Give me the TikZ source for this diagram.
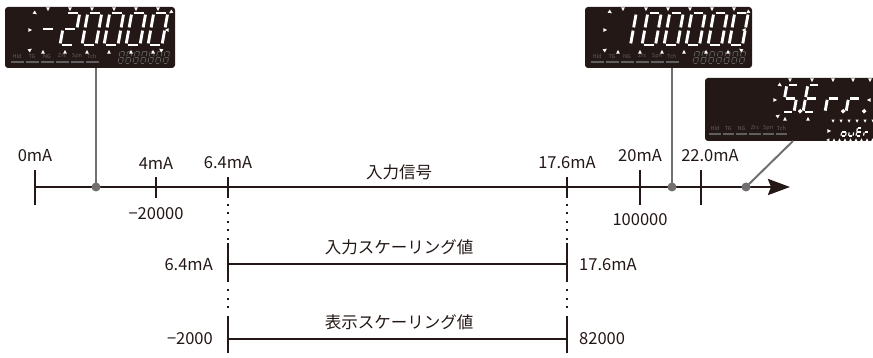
\documentclass[tikz,border=0pt]{standalone}
\usepackage{fontspec}
\setmainfont{Noto Sans CJK JP}
\usetikzlibrary{arrows.meta,positioning}

\definecolor{ink}{HTML}{231815}
\definecolor{lcdbg}{HTML}{231815}
\definecolor{leadgray}{HTML}{707070}
\definecolor{statgray}{HTML}{5F5F5F}

% seven segment parts (cell 1 wide, 2 high)
\newcommand\lcdsega{(0.14,2)--(0.86,2)}
\newcommand\lcdsegb{(1,1.9)--(1,1.1)}
\newcommand\lcdsegc{(1,0.9)--(1,0.1)}
\newcommand\lcdsegd{(0.14,0)--(0.86,0)}
\newcommand\lcdsege{(0,0.1)--(0,0.9)}
\newcommand\lcdsegf{(0,1.1)--(0,1.9)}
\newcommand\lcdsegg{(0.14,1)--(0.86,1)}
\newcommand\lcdsegp{(1.5,0.06) circle[radius=0.3pt]}

% [style]{bottom left}{half height}{width}{segments}
\newcommand\lcdchar[5][]{%
  \begin{scope}[shift={#2}, x=#4pt, y=#3pt, xslant=0.18]
    \foreach \sg in {#5} {\draw[lcdseg,#1] \csname lcdseg\sg\endcsname;}
  \end{scope}}

% [scale]{position}{direction}
\newcommand\blink[3][1]{%
  \fill[blinkmark, shift={#2}, rotate=#3, scale=#1]
    (2.2pt,0) -- (-1.6pt,1.9pt) -- (-1.6pt,-1.9pt) -- cycle;}

% {first x}{y}{pitch}{name prefix}
\newcommand\statrow[4]{%
  \foreach \lb [count=\i from 0] in {Hld,TG,NG,Zrs,Spn,Tch} {%
    \node[stat] (#4\i) at ({#1+\i*#3},#2) {\lb};
    \draw[statbar] ({#1+\i*#3-#3/2+1},{#2+6}) -- ++(#3-2,0);}}

\begin{document}
\begin{tikzpicture}[x=1pt, y=-1pt,
    lbl/.style      = {font=\fontsize{16.5}{18}\selectfont, text=ink, inner sep=0pt},
    axisline/.style = {line width=2.6pt, draw=ink,
                       -{Stealth[length=22pt, width=16pt, inset=3pt]}},
    tickmark/.style = {line width=2.4pt, draw=ink},
    guide/.style    = {line width=2.2pt, draw=ink, dash pattern=on 2pt off 6.5pt},
    scalebar/.style = {line width=2.4pt, draw=ink},
    tapdot/.style   = {circle, fill=leadgray, inner sep=0pt, minimum size=9pt},
    lead/.style     = {line width=2pt, draw=leadgray},
    lcd/.style      = {fill=lcdbg, rounded corners=3pt, inner sep=0pt},
    lcdseg/.style   = {line width=2.9pt, draw=white},
    lcdsmall/.style = {line width=0.8pt, draw=statgray},
    lcdtiny/.style  = {line width=1.2pt},
    stat/.style     = {font=\fontsize{5.5}{6}\selectfont, text=statgray, inner sep=0pt},
    statbar/.style  = {line width=1.6pt, draw=statgray},
    blinkmark/.style= {fill=white},
  ]
  \useasboundingbox (0,0) rectangle (873,358);

  % ---- display panels ----
  \node[lcd, minimum width=170pt, minimum height=61pt] (dispA) at (90,37.5) {};
  \node[lcd, minimum width=167pt, minimum height=61pt] (dispB) at (668.5,37.5) {};
  \node[lcd, minimum width=180pt, minimum height=63pt] (dispC) at (795,109.5) {};

  % panel A: -20000
  \lcdchar{(38,45)}{16}{14}{g}
  \lcdchar{(60,45)}{16}{14}{a,b,g,e,d}
  \foreach \cx in {82,104,126,148} {\lcdchar{(\cx,45)}{16}{14}{a,b,c,d,e,f}}
  \foreach \k in {0,...,6} {\lcdchar[lcdsmall]{(118+7.5*\k,63)}{6}{4.5}{a,b,c,d,e,f,g}}
  \statrow{17}{56}{15}{sa}
  \foreach \bx in {48,70,92,114,136,158} {\blink{(\bx,9)}{-90}}
  \foreach \bx in {43,65,87,109,131,153} {\blink{(\bx,52)}{90}}
  \blink{(35,13)}{-35} \blink{(30,30)}{0} \blink{(30,50)}{35}
  \blink{(171,12)}{-145} \blink{(167,30)}{180} \blink{(161,50)}{145}

  % panel B: 100000
  \lcdchar{(617,45)}{16}{13.5}{b,c}
  \foreach \cx in {642,664,686,708,729} {\lcdchar{(\cx,45)}{16}{13.5}{a,b,c,d,e,f}}
  \foreach \k in {0,...,6} {\lcdchar[lcdsmall]{(693+7.7*\k,63)}{6}{4.5}{a,b,c,d,e,f,g}}
  \statrow{597}{56}{15}{sb}
  \foreach \bx in {623,646,668,690,712,734} {\blink{(\bx,9)}{-90}}
  \foreach \bx in {618,640,662,684,706,728} {\blink{(\bx,52)}{90}}
  \blink{(610,12)}{-35} \blink{(605,30)}{0} \blink{(605,50)}{35}
  \blink{(748,12)}{-145} \blink{(744,30)}{180} \blink{(741,50)}{145}

  % panel C: S.Err / ouEr
  \lcdchar{(782,112)}{13.5}{12}{a,f,g,c,d,p}
  \lcdchar{(803,112)}{13.5}{12}{a,f,g,e,d}
  \lcdchar{(825,112)}{13.5}{12}{e,g,p}
  \lcdchar{(846,112)}{13.5}{12}{e,g,p}
  \lcdchar[lcdtiny]{(841,136)}{4}{4.5}{c,d,e,g}
  \lcdchar[lcdtiny]{(848.5,136)}{4}{4.5}{c,d,e}
  \lcdchar[lcdtiny]{(856,136)}{4}{4.5}{a,f,g,e,d}
  \lcdchar[lcdtiny]{(863.5,136)}{4}{4.5}{e,g}
  \statrow{715}{128}{13.3}{sc}
  \foreach \bx in {790,812,833,853,870} {\blink{(\bx,80)}{-90}}
  \foreach \bx in {785,808} {\blink{(\bx,119)}{90}}
  \blink{(780,85)}{-35} \blink{(775,100)}{0} \blink{(778,116)}{35}
  \blink{(869,100)}{180}
  \foreach \bx in {833,841,849,857,865,873} {\blink[0.8]{(\bx,121)}{-90}}
  \blink{(829,131)}{0}
  \blink[0.8]{(828,140)}{180}
  \foreach \k in {0,...,7} {\blink[0.7]{(834+5.5*\k,140)}{90}}

  % ---- current axis ----
  \coordinate (axL) at (35,187);
  \coordinate (axR) at (790,187);
  \draw[axisline] (axL) -- (axR);
  \foreach \tx in {35,640,701} {\draw[tickmark] (\tx,170) -- (\tx,205);}
  \foreach \tx in {156,228,567} {\draw[tickmark] (\tx,177) -- (\tx,198);}

  \node[lbl] (mA0)   at (35,156)  {0mA};
  \node[lbl] (mA4)   at (156,163) {4mA};
  \node[lbl] (mA64)  at (228,163) {6.4mA};
  \node[lbl] (mA176) at (567,163) {17.6mA};
  \node[lbl] (mA20)  at (640,156) {20mA};
  \node[lbl] (mA22)  at (710,156) {22.0mA};
  \node[lbl] (insig) at (399,172) {入力信号};
  \node[lbl] (dsp4)  at (156,214) {−20000};
  \node[lbl] (dsp20) at (640,220) {100000};

  % leads to the panels
  \coordinate (dispCfoot) at (793,141);
  \node[tapdot] (tapA) at (96,187) {};
  \node[tapdot] (tapB) at (672,187) {};
  \node[tapdot] (tapC) at (746,187) {};
  \draw[lead] (tapA.center) -- (tapA |- dispA.south);
  \draw[lead] (tapB.center) -- (tapB |- dispB.south);
  \draw[lead] (tapC.center) -- (dispCfoot);

  % ---- scaling ranges ----
  \foreach \gx in {228,567} {
    \draw[guide]    (\gx,204) -- (\gx,241);
    \draw[scalebar] (\gx,243) -- (\gx,282);
    \draw[guide]    (\gx,289) -- (\gx,312);
    \draw[scalebar] (\gx,316) -- (\gx,353);
  }
  \draw[scalebar] (228,264) -- (567,264);
  \draw[scalebar] (228,339) -- (567,339);

  \node[lbl] (inscl)  at (399,247) {入力スケーリング値};
  \node[lbl] (dspscl) at (399,322) {表示スケーリング値};
  \node[lbl, anchor=east] (inlo) at (213,265) {6.4mA};
  \node[lbl, anchor=west] (inhi) at (579,265) {17.6mA};
  \node[lbl, anchor=east] (dlo)  at (213,339) {−2000};
  \node[lbl, anchor=west] (dhi)  at (579,339) {82000};
\end{tikzpicture}
\end{document}
